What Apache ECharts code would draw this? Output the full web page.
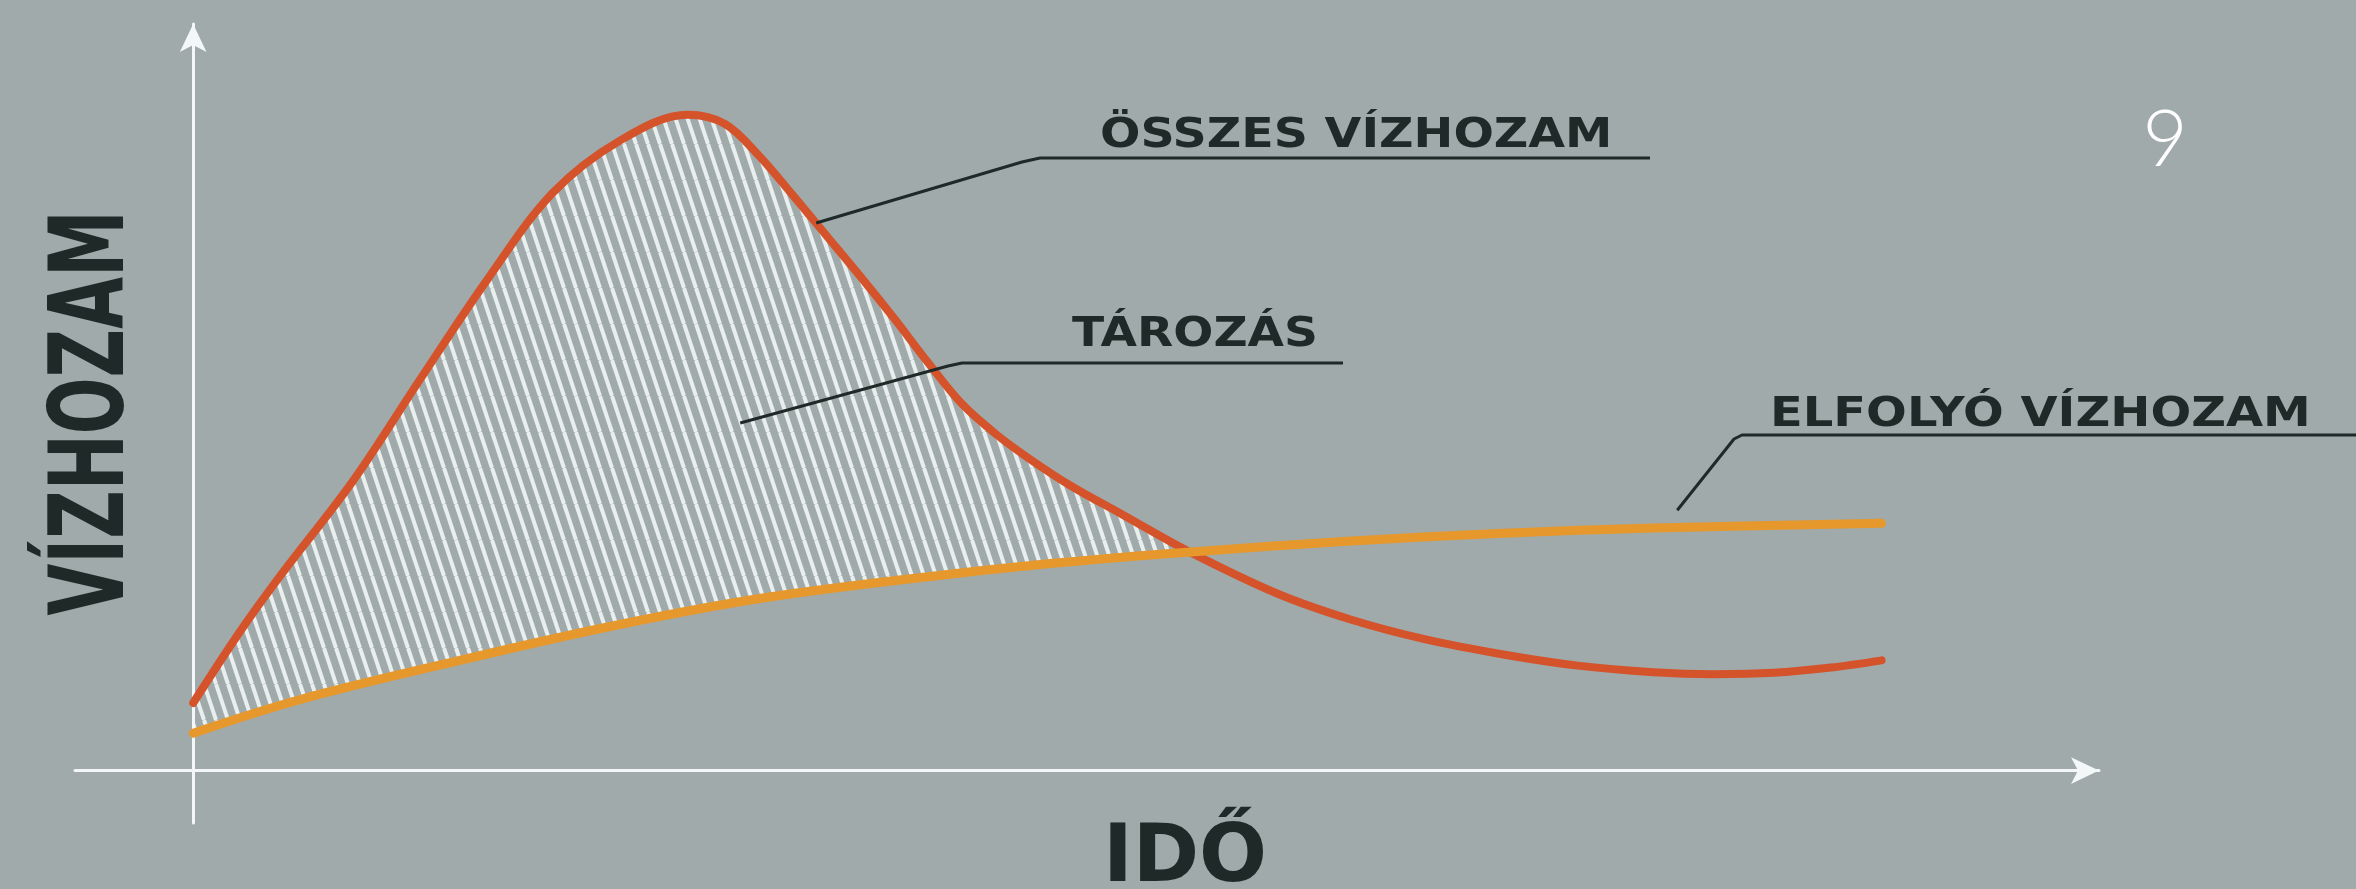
<!DOCTYPE html>
<html lang="hu">
<head>
<meta charset="utf-8">
<title>Vízhozam – tározás</title>
<script src="https://cdn.jsdelivr.net/npm/echarts@6/dist/echarts.min.js"></script>
<style>
  html, body { margin: 0; padding: 0; background: #a0aaaa; }
  #chart { width: 2356px; height: 889px; }
</style>
</head>
<body>
<div id="chart"></div>
<script>
// Összes vízhozam (beérkező) – idő és vízhozam értékek
const totalTime = [0, 2.8, 5.1, 9.5, 13.4, 17.4, 21.3, 25.3, 29.3, 31.5, 33.5, 35.5, 37.5, 39.5, 41.5, 43.5, 45.5, 47.5, 49.5, 52, 55, 58.9, 64.2, 68.6, 73, 77.6, 82, 86.5, 90, 93.6, 97, 100];
const totalFlow = [10.3, 21.3, 29.5, 44.3, 59.5, 74.8, 88.1, 96.1, 100, 98.6, 93.8, 87.8, 81.6, 75.4, 69.0, 62.3, 56.0, 51.4, 47.6, 43.4, 39.1, 33.5, 27.0, 23.0, 20.0, 17.7, 16.0, 15.0, 14.7, 14.9, 15.7, 16.8];

// Elfolyó vízhozam
const outflowTime = [0, 6.3, 15.3, 24.2, 33.0, 42.0, 50.9, 58.9, 68.6, 77.6, 86.5, 100];
const outflowFlow = [5.7, 10.8, 16.5, 21.7, 26.0, 29.1, 31.6, 33.3, 35.0, 36.2, 37.0, 37.7];

// Feliratok
const axisTitleY = 'VÍZHOZAM';
const axisTitleX = 'IDŐ';
const labelTotal = 'ÖSSZES VÍZHOZAM';
const labelStorage = 'TÁROZÁS';
const labelOutflow = 'ELFOLYÓ VÍZHOZAM';
const figureNumber = '9';

const BG = '#a0aaaa';
const RED = '#d4532b';
const ORANGE = '#e6982c';
const INK = '#1f2927';
const AXIS = '#f4f7f7';
const SMOOTH = 0.35;

const totalSeries = totalTime.map((t, i) => [t, totalFlow[i]]);
const outflowSeries = outflowTime.map((t, i) => [t, outflowFlow[i]]);
// the hatched band only needs the part of the curve up to a little past the crossing
const storageEdge = totalSeries.filter((p) => p[0] <= 68.6);

// white diagonal hatch for the storage area
function hatch() {
  const c = document.createElement('canvas');
  c.width = 12; c.height = 36;
  const g = c.getContext('2d');
  g.fillStyle = BG;
  g.fillRect(0, 0, 12, 36);
  g.strokeStyle = '#e9efee';
  g.lineWidth = 4;
  for (const dx of [-12, 0, 12]) {
    g.beginPath();
    g.moveTo(dx, 0);
    g.lineTo(dx + 12, 36);
    g.stroke();
  }
  return c;
}

const chart = echarts.init(document.getElementById('chart'), null, { renderer: 'canvas' });

const axisCommon = {
  type: 'value',
  z: 2,
  axisTick: { show: false },
  axisLabel: { show: false },
  splitLine: { show: false },
  axisLine: {
    show: true,
    onZero: true,
    symbol: ['none', 'arrow'],
    symbolSize: [20, 28],
    lineStyle: { color: AXIS, width: 3 }
  }
};

chart.setOption({
  backgroundColor: BG,
  animation: false,
  grid: { left: 75, right: 257, top: 24, bottom: 66 },
  xAxis: Object.assign({}, axisCommon, { min: -7, max: 112.88 }),
  yAxis: Object.assign({}, axisCommon, { min: -8, max: 113.85 }),
  series: [
    {
      // hatched fill under the total discharge curve
      type: 'line', data: storageEdge, smooth: SMOOTH,
      symbol: 'none', z: 1, silent: true,
      lineStyle: { width: 0, opacity: 0 },
      areaStyle: { color: { image: hatch(), repeat: 'repeat' }, opacity: 1 }
    },
    {
      // background-coloured fill under the outflow curve, leaving only the storage band hatched
      type: 'line', data: outflowSeries, smooth: SMOOTH,
      symbol: 'none', z: 1, silent: true,
      lineStyle: { width: 0, opacity: 0 },
      areaStyle: { color: BG, opacity: 1 }
    },
    {
      name: labelTotal,
      type: 'line', data: totalSeries, smooth: SMOOTH,
      symbol: 'none', z: 3,
      lineStyle: { color: RED, width: 8, cap: 'round' }
    },
    {
      name: labelOutflow,
      type: 'line', data: outflowSeries, smooth: SMOOTH,
      symbol: 'none', z: 4,
      lineStyle: { color: ORANGE, width: 9, cap: 'round' }
    }
  ]
});

// callout anchors given in data space, converted to pixels
const toPx = (pt) => chart.convertToPixel({ gridIndex: 0 }, pt);
const aTotal = toPx([36.9, 83.5]);
const aStorage = toPx([32.4, 53.0]);
const aOutflow = toPx([87.9, 39.7]);

const leader = (pts) => ({
  type: 'polyline', z: 10, silent: true,
  shape: { points: pts },
  style: { stroke: INK, lineWidth: 3, fill: null, lineJoin: 'round' }
});

const label = (text, x, y, size, sx) => ({
  type: 'text', z: 10, silent: true, x, y, scaleX: sx,
  style: { text, font: 'bold ' + size + 'px "DejaVu Sans"', fill: INK, align: 'left', verticalAlign: 'middle' }
});

chart.setOption({
  graphic: [
    leader([aTotal, [1022, 162], [1040, 158], [1650, 158]]),
    label(labelTotal, 1100, 136, 41, 1.16),

    leader([aStorage, [948, 366], [962, 363], [1343, 363]]),
    label(labelStorage, 1072, 335, 41, 1.15),

    leader([aOutflow, [1734, 439], [1742, 435], [2356, 435]]),
    label(labelOutflow, 1770, 415, 41, 1.17),

    {
      type: 'text', z: 10, silent: true, x: 96, y: 413, rotation: Math.PI / 2, scaleX: 0.65,
      style: { text: axisTitleY, font: 'bold 103px "DejaVu Sans"', fill: INK, align: 'center', verticalAlign: 'middle' }
    },
    {
      type: 'text', z: 10, silent: true, x: 1185, y: 860,
      style: { text: axisTitleX, font: 'bold 80px "DejaVu Sans"', fill: INK, align: 'center', verticalAlign: 'middle' }
    },
    {
      type: 'text', z: 10, silent: true, x: 2165, y: 141,
      style: { text: figureNumber, font: '300 78px Lato, "Open Sans"', fill: '#ffffff', align: 'center', verticalAlign: 'middle' }
    }
  ]
});
</script>
</body>
</html>
